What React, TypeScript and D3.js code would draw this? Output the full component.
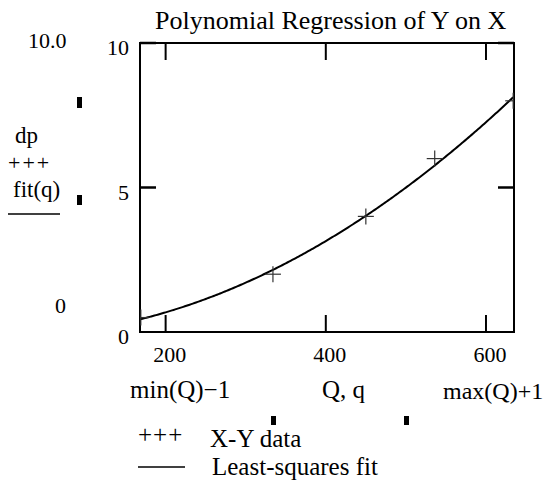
import React from "react";
import * as d3 from "d3";

// X-Y data
const Q = [169, 334, 450, 536, 634];
const dp = [0.5, 2, 4, 6, 8];
const xTicks = [200, 400, 600];
const yTicks = [0, 5, 10];
const title = "Polynomial Regression of Y on X";

const W = 546;
const H = 481;
const FONT = "'Liberation Serif', 'Times New Roman', serif";

// least squares polynomial of degree k, via normal equations
function polyFit(xs: number[], ys: number[], k: number): number[] {
  const n = k + 1;
  const A: number[][] = [];
  for (let i = 0; i < n; i++) {
    const row: number[] = [];
    for (let j = 0; j < n; j++) row.push(d3.sum(xs, (x) => Math.pow(x, i + j)));
    row.push(d3.sum(xs, (x, idx) => ys[idx] * Math.pow(x, i)));
    A.push(row);
  }
  for (let c = 0; c < n; c++) {
    let p = c;
    for (let r = c + 1; r < n; r++) if (Math.abs(A[r][c]) > Math.abs(A[p][c])) p = r;
    [A[c], A[p]] = [A[p], A[c]];
    for (let r = 0; r < n; r++) {
      if (r === c) continue;
      const f = A[r][c] / A[c][c];
      for (let j = c; j <= n; j++) A[r][j] -= f * A[c][j];
    }
  }
  return A.map((row, i) => row[n] / row[i]);
}

export default function App() {
  const left = 140, right = 514, top = 43, bottom = 332;
  const qMin = d3.min(Q)! - 1;
  const qMax = d3.max(Q)! + 1;

  const x = d3.scaleLinear().domain([qMin, qMax]).range([left, right]);
  const y = d3.scaleLinear().domain([0, 10]).range([bottom, top]);

  const coef = polyFit(Q, dp, 2);
  const fit = (q: number) => coef.reduce((s, c, i) => s + c * Math.pow(q, i), 0);
  const q = d3.range(qMin, qMax + 0.5, 2);

  const line = d3
    .line<number>()
    .x((d) => x(d))
    .y((d) => y(fit(d)));

  const tickLen = 16;
  const plus = 8;

  return (
    <svg
      width={W}
      height={H}
      style={{ position: "absolute", left: 0, top: 0, background: "#fff" }}
      fontFamily={FONT}
    >
      <defs>
        <clipPath id="plotClip">
          <rect x={left} y={top} width={right - left} height={bottom - top} />
        </clipPath>
      </defs>

      <text x={155} y={29} fontSize={26}>{title}</text>

      {/* frame */}
      <rect x={left} y={top} width={right - left} height={bottom - top} fill="none" stroke="#000" strokeWidth={2} />

      {/* y ticks, both sides */}
      {yTicks.filter((t) => t > 0).map((t) => (
        <g key={"y" + t}>
          <line x1={left} x2={left + tickLen} y1={y(t)} y2={y(t)} stroke="#000" strokeWidth={2.5} />
          <line x1={right - tickLen} x2={right} y1={y(t)} y2={y(t)} stroke="#000" strokeWidth={2.5} />
        </g>
      ))}
      {yTicks.map((t) => (
        <text key={"yl" + t} x={129} y={y(t) + 12} fontSize={22} textAnchor="end">{t}</text>
      ))}

      {/* x ticks, both sides */}
      {xTicks.map((t) => (
        <g key={"x" + t}>
          <line x1={x(t)} x2={x(t)} y1={bottom} y2={bottom - 17} stroke="#000" strokeWidth={2} />
          <line x1={x(t)} x2={x(t)} y1={top} y2={top + 17} stroke="#000" strokeWidth={2} />
          <text x={x(t) + 4} y={362} fontSize={22} textAnchor="middle">{t}</text>
        </g>
      ))}

      <g clipPath="url(#plotClip)">
        <path d={line(q) || ""} fill="none" stroke="#000" strokeWidth={2} />
        {Q.map((v, i) => (
          <g key={"p" + i} stroke="#333" strokeWidth={1.2}>
            <line x1={x(v) - plus} x2={x(v) + plus} y1={y(dp[i])} y2={y(dp[i])} />
            <line x1={x(v)} x2={x(v)} y1={y(dp[i]) - plus} y2={y(dp[i]) + plus} />
          </g>
        ))}
      </g>

      {/* left side: y range and trace labels */}
      <text x={28} y={48} fontSize={22}>10.0</text>
      <text x={55} y={313} fontSize={22}>0</text>
      <text x={15} y={143} fontSize={23}>dp</text>
      <text x={8} y={170} fontSize={22} letterSpacing={2}>+++</text>
      <text x={13} y={197} fontSize={23}>fit(q)</text>
      <line x1={8} x2={60} y1={214} y2={214} stroke="#000" strokeWidth={1.5} />
      <rect x={77} y={97} width={5} height={11} fill="#000" />
      <rect x={77} y={195} width={5} height={10} fill="#000" />

      {/* x range and axis label */}
      <text x={130} y={398} fontSize={25}>min(Q)−1</text>
      <text x={322} y={398} fontSize={25}>Q, q</text>
      <text x={443} y={399} fontSize={24}>max(Q)+1</text>
      <rect x={271} y={416} width={5} height={9} fill="#000" />
      <rect x={404} y={416} width={5} height={9} fill="#000" />

      {/* legend */}
      <text x={138} y={443} fontSize={25} letterSpacing={1}>+++</text>
      <text x={210} y={447} fontSize={25}>X-Y data</text>
      <line x1={138} x2={185} y1={467} y2={467} stroke="#000" strokeWidth={1.5} />
      <text x={212} y={475} fontSize={25}>Least-squares fit</text>
    </svg>
  );
}
